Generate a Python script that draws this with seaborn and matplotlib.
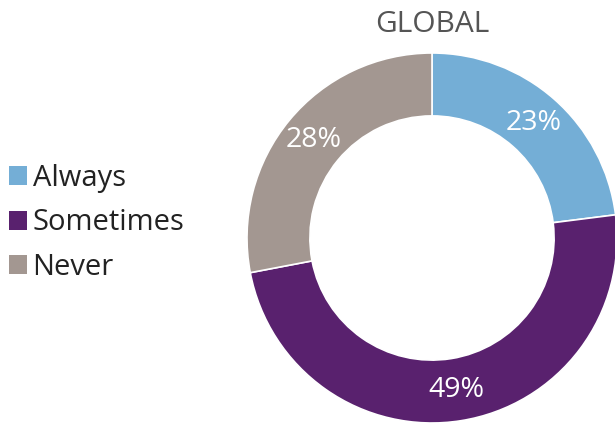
import matplotlib
matplotlib.use("Agg")
import matplotlib.pyplot as plt
from matplotlib.patches import Patch
import seaborn as sns
import numpy as np

categories = ["Always", "Sometimes", "Never"]
values = [23, 49, 28]
labels = ["23%", "49%", "28%"]
colors = ["#74aed6", "#59216e", "#a39791"]
title = "GLOBAL"

sns.set_theme(style="white")
plt.rcParams['font.family'] = ['Open Sans', 'DejaVu Sans']

W, H = 615, 423
fig = plt.figure(figsize=(W / 100, H / 100), dpi=100)
ax = fig.add_axes([0, 0, 1, 1])

cx, cy, R = 432, H - 238, 185
wedges, _ = ax.pie(values, colors=colors, startangle=90, counterclock=False,
                   center=(cx, cy), radius=R,
                   wedgeprops=dict(width=R * 0.34, edgecolor="white", linewidth=1.2))

cum = np.cumsum([0] + values[:-1])
for v, c0, lab in zip(values, cum, labels):
    ang = np.deg2rad(90 - (c0 + v / 2) / sum(values) * 360)
    r = R * 0.83
    ax.text(cx + r * np.cos(ang), cy + r * np.sin(ang), lab, color="white",
            fontsize=20.5, ha="center", va="center")

ax.text(cx, H - 24, title, ha="center", va="center", fontsize=21.5, color="#555555")

ax.set_xlim(0, W)
ax.set_ylim(0, H)
ax.set_aspect("equal")
ax.axis("off")

handles = [Patch(facecolor=c, edgecolor="none") for c in colors]
fig.legend(handles, categories, loc="upper left", bbox_to_anchor=(0.014, 1 - 164 / H),
           frameon=False, fontsize=21, handlelength=0.62, handleheight=0.62,
           handletextpad=0.2, labelspacing=0.53, borderaxespad=0, borderpad=0,
           labelcolor="#222222")

fig.savefig("out.png", dpi=100)
